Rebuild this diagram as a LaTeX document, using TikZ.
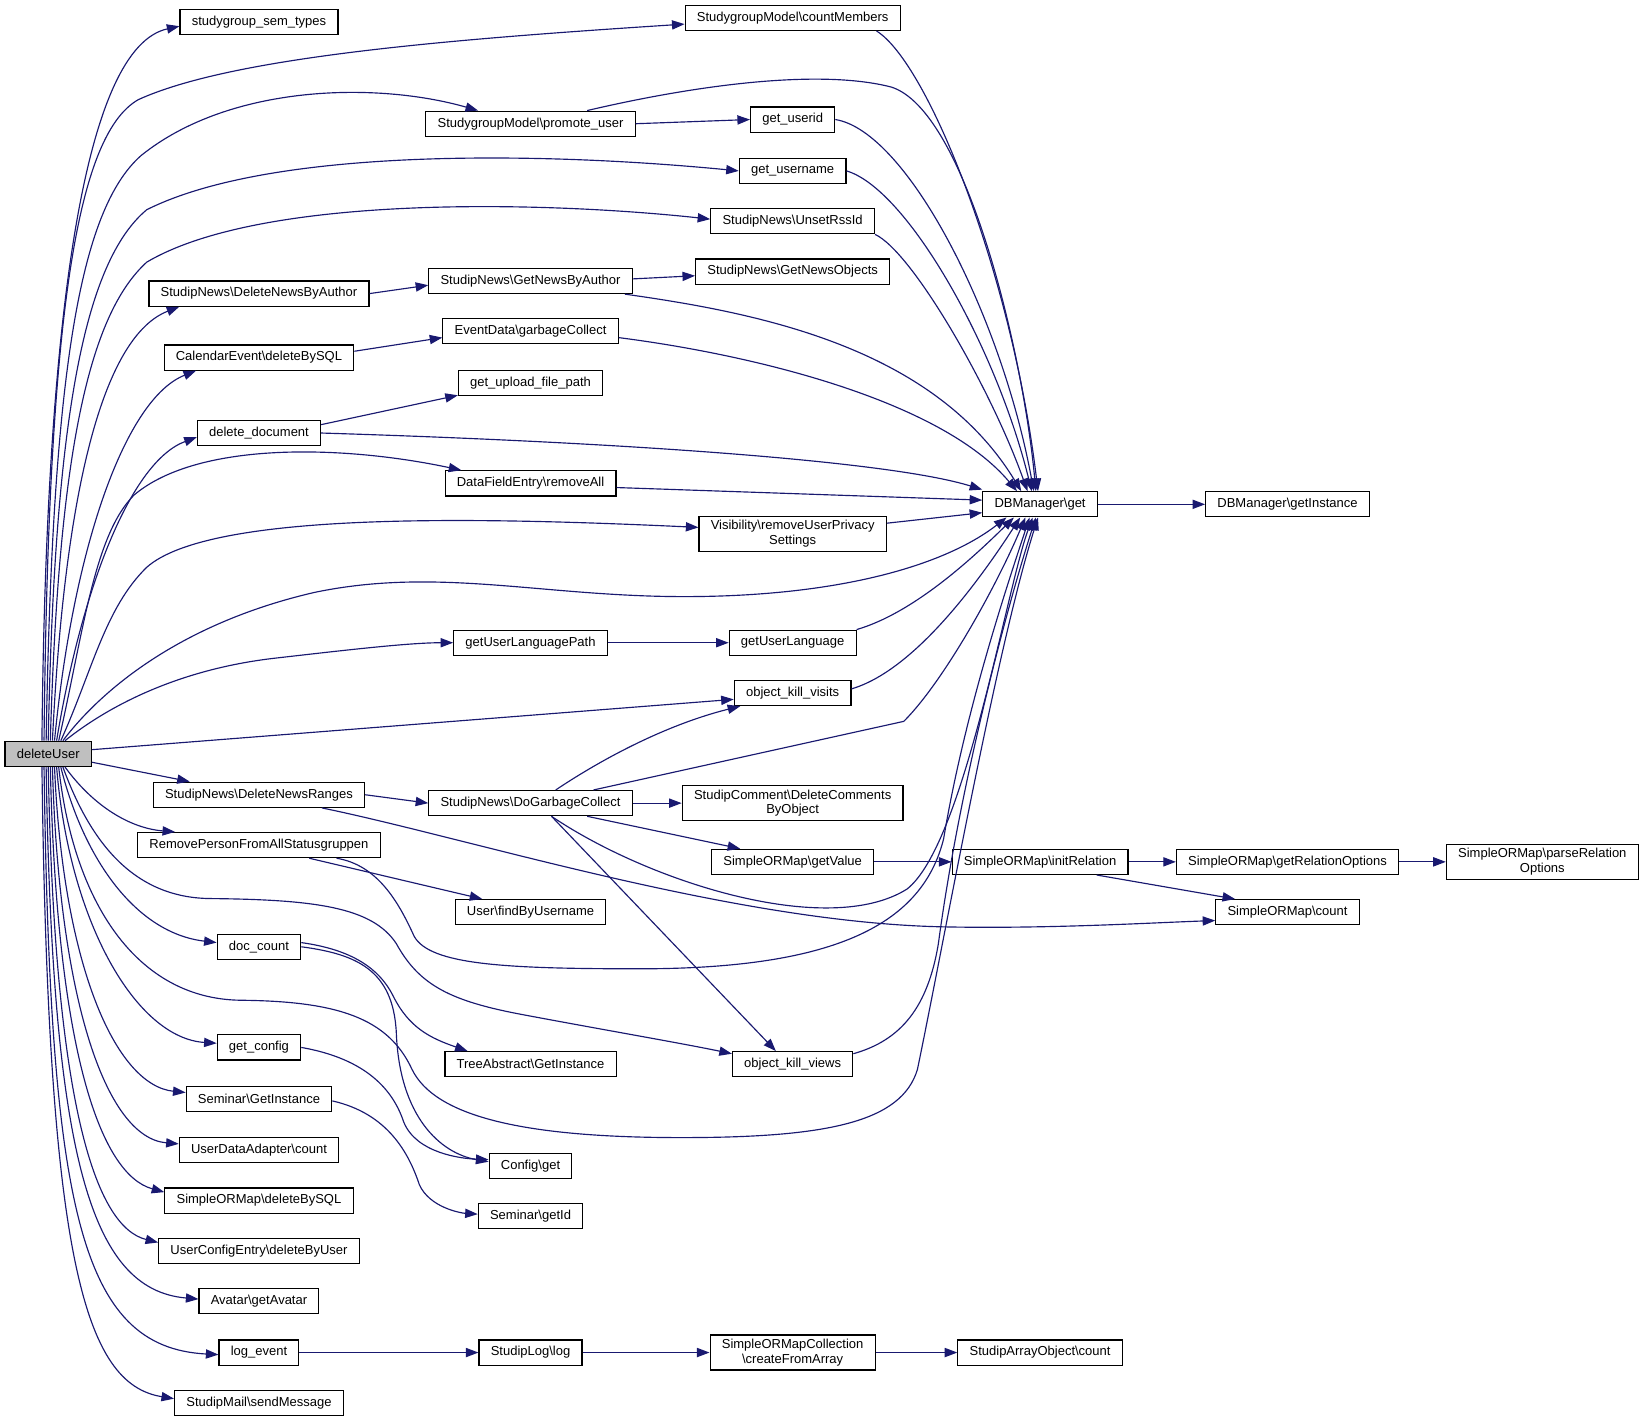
\documentclass[tikz,border=0pt]{standalone}
\usepackage{fontspec}
\setmainfont{Liberation Sans}
\usetikzlibrary{arrows.meta}
\definecolor{edgeblue}{HTML}{191970}
\newcommand{\bs}{\textbackslash}

\begin{document}
\begin{tikzpicture}[x=0.5pt, y=-0.5pt,
	fn/.style={draw, line width=0.55pt, fill=white, inner xsep=5.6pt, inner ysep=2pt, minimum height=12pt, font=\fontsize{6.2}{6.9}\selectfont, align=center},
	cur/.style={fn, fill=black!25},
	call/.style={draw=edgeblue, line width=0.55pt, -{Triangle[length=6pt, width=4.4pt]}}]
			\useasboundingbox (0,0) rectangle (1568,1355);
			
			\node[cur] (du) at (46,719) {deleteUser};
			
			\node[fn] (sst) at (247,21) {studygroup\_sem\_types};
			\node[fn] (dnba) at (247,280) {StudipNews\bs DeleteNewsByAuthor};
			\node[fn] (cedel) at (247,341) {CalendarEvent\bs deleteBySQL};
			\node[fn] (deldoc) at (247,413) {delete\_document};
			\node[fn] (dnr) at (247,758) {StudipNews\bs DeleteNewsRanges};
			\node[fn] (rpfas) at (247,806) {RemovePersonFromAllStatusgruppen};
			\node[fn] (doccnt) at (247,903) {doc\_count};
			\node[fn] (getcfg) at (247,999) {get\_config};
			\node[fn] (semgi) at (247,1048) {Seminar\bs GetInstance};
			\node[fn] (udacnt) at (247,1097) {UserDataAdapter\bs count};
			\node[fn] (sormdel) at (247,1145) {SimpleORMap\bs deleteBySQL};
			\node[fn] (ucedel) at (247,1193) {UserConfigEntry\bs deleteByUser};
			\node[fn] (avatar) at (247,1241) {Avatar\bs getAvatar};
			\node[fn] (logev) at (247,1290) {log\_event};
			\node[fn] (sendmsg) at (247,1338) {StudipMail\bs sendMessage};
			
			\node[fn] (promote) at (506,118) {StudygroupModel\bs promote\_user};
			\node[fn] (gnba) at (506,268) {StudipNews\bs GetNewsByAuthor};
			\node[fn] (edgc) at (506,316) {EventData\bs garbageCollect};
			\node[fn] (upload) at (506,365) {get\_upload\_file\_path};
			\node[fn] (dfera) at (506,461) {DataFieldEntry\bs removeAll};
			\node[fn] (ulpath) at (506,613) {getUserLanguagePath};
			\node[fn] (dogc) at (506,766) {StudipNews\bs DoGarbageCollect};
			\node[fn] (findu) at (506,870) {User\bs findByUsername};
			\node[fn] (treegi) at (506,1015) {TreeAbstract\bs GetInstance};
			\node[fn] (cfgget) at (506,1112) {Config\bs get};
			\node[fn] (semid) at (506,1160) {Seminar\bs getId};
			\node[fn] (slog) at (506,1290) {StudipLog\bs log};
			
			\node[fn] (cntmem) at (756,17) {StudygroupModel\bs countMembers};
			\node[fn] (userid) at (756,114) {get\_userid};
			\node[fn] (uname) at (756,163) {get\_username};
			\node[fn] (unset) at (756,211) {StudipNews\bs UnsetRssId};
			\node[fn] (gno) at (756,259) {StudipNews\bs GetNewsObjects};
			\node[fn] (vis) at (756,509) {Visibility\bs removeUserPrivacy\\Settings};
			\node[fn] (ulang) at (756,613) {getUserLanguage};
			\node[fn] (okvisits) at (756,661) {object\_kill\_visits};
			\node[fn] (dcbo) at (756,766) {StudipComment\bs DeleteComments\\ByObject};
			\node[fn] (getval) at (756,822) {SimpleORMap\bs getValue};
			\node[fn] (okviews) at (756,1015) {object\_kill\_views};
			\node[fn] (colfa) at (756,1290) {SimpleORMapCollection\\\bs createFromArray};
			
			\node[fn] (dbget) at (992,481) {DBManager\bs get};
			\node[fn] (initrel) at (992,822) {SimpleORMap\bs initRelation};
			\node[fn] (saocnt) at (992,1290) {StudipArrayObject\bs count};
			
			\node[fn] (dbinst) at (1228,481) {DBManager\bs getInstance};
			\node[fn] (getrelopt) at (1228,822) {SimpleORMap\bs getRelationOptions};
			\node[fn] (sormcnt) at (1228,870) {SimpleORMap\bs count};
			\node[fn] (parserel) at (1471,822) {SimpleORMap\bs parseRelation\\Options};
			
			% calls made by deleteUser
			\draw[call] ([xshift=-3pt]du.north) .. controls (44,300) and (80,45) .. ([yshift=-2pt]sst.west);
			\draw[call] ([xshift=-2pt]du.north) .. controls (46,320) and (70,130) .. (132,95) .. controls (220,55) and (420,38) .. ([yshift=-3pt]cntmem.west);
			\draw[call] ([xshift=-1pt]du.north) .. controls (50,360) and (75,200) .. (135,148) .. controls (220,80) and (360,78) .. ([xshift=-25pt]promote.north);
			\draw[call] (du.north) .. controls (52,400) and (80,250) .. (140,200) .. controls (260,140) and (520,145) .. (uname.west);
			\draw[call] ([xshift=1pt]du.north) .. controls (56,430) and (85,300) .. (140,250) .. controls (250,185) and (520,192) .. ([yshift=1pt]unset.west);
			\draw[call] ([xshift=2pt]du.north) .. controls (62,460) and (100,320) .. ([xshift=-38pt]dnba.south);
			\draw[call] ([xshift=3pt]du.north) .. controls (70,520) and (120,380) .. ([xshift=-30pt]cedel.south);
			\draw[call] ([xshift=4pt]du.north) .. controls (78,560) and (125,440) .. ([yshift=-2pt]deldoc.west);
			\draw[call] ([xshift=5pt]du.north) .. controls (80,600) and (90,510) .. (128,472) .. controls (190,420) and (330,425) .. ([xshift=-33pt]dfera.north);
			\draw[call] ([xshift=6pt]du.north) .. controls (88,640) and (100,580) .. (140,541) .. controls (200,488) and (450,493) .. ([yshift=3pt]vis.west);
			\draw[call] ([xshift=7pt]du.north) .. controls (95,660) and (170,595) .. (300,565) .. controls (420,540) and (520,570) .. (660,569) .. controls (800,568) and (900,540) .. ([xshift=-16pt]dbget.south);
			\draw[call] ([xshift=8pt]du.north) .. controls (95,680) and (160,640) .. (260,628) .. controls (330,620) and (390,613) .. (ulpath.west);
			\draw[call] ([yshift=2pt]du.east) -- ([yshift=-3pt]okvisits.west);
			\draw[call] ([yshift=-4pt]du.east) -- ([xshift=-33pt]dnr.north);
			\draw[call] ([xshift=8pt]du.south) .. controls (90,770) and (125,790) .. ([xshift=-40pt]rpfas.north);
			\draw[call] ([xshift=7pt]du.south) .. controls (85,800) and (125,856) .. (200,857) .. controls (300,858) and (355,865) .. (378,900) .. controls (400,940) and (430,955) .. (500,968) .. controls (580,983) and (650,995) .. ([yshift=5pt]okviews.west);
			\draw[call] ([xshift=6pt]du.south) .. controls (80,820) and (130,890) .. ([yshift=2pt]doccnt.west);
			\draw[call] ([xshift=5pt]du.south) .. controls (70,860) and (130,953) .. (230,954) .. controls (320,955) and (370,970) .. (393,1020) .. controls (415,1065) and (500,1085) .. (650,1085) .. controls (790,1085) and (860,1070) .. (875,1020) .. controls (900,900) and (950,620) .. ([xshift=-1pt]dbget.south);
			\draw[call] ([xshift=4pt]du.south) .. controls (66,880) and (130,990) .. ([yshift=2pt]getcfg.west);
			\draw[call] ([xshift=3pt]du.south) .. controls (60,920) and (110,1035) .. ([yshift=3pt]semgi.west);
			\draw[call] ([xshift=2pt]du.south) .. controls (56,950) and (100,1085) .. ([yshift=3pt]udacnt.west);
			\draw[call] ([xshift=1pt]du.south) .. controls (54,1000) and (95,1120) .. ([yshift=4pt]sormdel.west);
			\draw[call] (du.south) .. controls (52,1050) and (90,1170) .. ([yshift=4pt]ucedel.west);
			\draw[call] ([xshift=-1pt]du.south) .. controls (50,1100) and (85,1230) .. ([yshift=1pt]avatar.west);
			\draw[call] ([xshift=-2pt]du.south) .. controls (48,1150) and (75,1285) .. ([yshift=-1pt]logev.west);
			\draw[call] ([xshift=-3pt]du.south) .. controls (46,1200) and (80,1320) .. ([yshift=2pt]sendmsg.west);
			
			% upper callees
			\draw[call] (promote.east) -- (userid.west);
			\draw[call] ([xshift=27pt]promote.north) .. controls (660,82) and (780,65) .. (850,83) .. controls (920,105) and (975,330) .. ([xshift=-2pt]dbget.north);
			\draw[call] ([xshift=40pt]cntmem.south) .. controls (885,60) and (965,260) .. ([xshift=-1pt]dbget.north);
			\draw[call] (userid.east) .. controls (865,125) and (955,300) .. ([xshift=-3pt]dbget.north);
			\draw[call] (uname.east) .. controls (865,180) and (950,330) .. ([xshift=-4pt]dbget.north);
			\draw[call] (unset.south east) .. controls (870,240) and (945,370) .. ([xshift=-6pt]dbget.north);
			\draw[call] (dnba.east) -- ([yshift=-2pt]gnba.west);
			\draw[call] ([yshift=1pt]gnba.east) -- ([yshift=-2pt]gno.west);
			\draw[call] ([xshift=45pt]gnba.south) .. controls (720,298) and (890,330) .. ([xshift=-9pt]dbget.north);
			\draw[call] ([yshift=3pt]cedel.east) -- ([yshift=-3pt]edgc.west);
			\draw[call] ([yshift=-3pt]edgc.east) .. controls (730,340) and (900,385) .. ([xshift=-11pt]dbget.north);
			\draw[call] ([yshift=4pt]deldoc.east) -- ([yshift=-6pt]upload.west);
			\draw[call] (deldoc.east) .. controls (600,422) and (850,440) .. ([yshift=7pt]dbget.west);
			\draw[call] ([yshift=-2pt]dfera.east) -- ([yshift=2pt]dbget.west);
			\draw[call] ([yshift=5pt]vis.east) -- ([yshift=-4pt]dbget.west);
			\draw[call] (dbget.east) -- (dbinst.west);
			
			% middle callees
			\draw[call] (ulpath.east) -- (ulang.west);
			\draw[call] (ulang.north east) .. controls (870,585) and (925,535) .. ([xshift=-12.5pt]dbget.south);
			\draw[call] ([yshift=2pt]okvisits.east) .. controls (870,640) and (930,560) .. ([xshift=-9.5pt]dbget.south);
			\draw[call] (dnr.east) -- (dogc.west);
			\draw[call] ([xshift=30pt]dnr.south) .. controls (450,800) and (700,880) .. (900,884) .. controls (1000,886) and (1100,880) .. ([yshift=-4pt]sormcnt.west);
			\draw[call] ([xshift=12pt]dogc.north) .. controls (580,720) and (640,690) .. ([xshift=-25pt]okvisits.south);
			\draw[call] ([xshift=30pt]dogc.north) -- (862,688) .. controls (900,650) and (950,560) .. ([xshift=-7pt]dbget.south);
			\draw[call] (dogc.east) -- (dcbo.west);
			\draw[call] ([xshift=27pt]dogc.south) -- ([xshift=-25pt]getval.north);
			\draw[call] ([xshift=10pt]dogc.south) -- ([xshift=-8pt]okviews.north);
			\draw[call] ([xshift=10pt]dogc.south) .. controls (620,842) and (790,895) .. (865,848) .. controls (920,805) and (960,560) .. ([xshift=-3.5pt]dbget.south);
			\draw[call] ([xshift=24pt]rpfas.south) -- ([xshift=-23pt]findu.north);
			\draw[call] ([xshift=37pt]rpfas.south) .. controls (360,825) and (380,860) .. (395,893) .. controls (410,920) and (480,924) .. (610,924) .. controls (800,924) and (880,880) .. (900,800) .. controls (920,680) and (960,560) .. ([xshift=-5pt]dbget.south);
			\draw[call] (getval.east) -- (initrel.west);
			\draw[call] (initrel.east) -- (getrelopt.west);
			\draw[call] ([xshift=27pt]initrel.south) -- ([xshift=-25pt]sormcnt.north);
			\draw[call] (getrelopt.east) -- (parserel.west);
			\draw[call] ([yshift=5pt]okviews.east) .. controls (860,992) and (885,960) .. (895,900) .. controls (915,750) and (960,580) .. ([xshift=-2pt]dbget.south);
			
			% lower callees
			\draw[call] ([yshift=2pt]doccnt.east) .. controls (330,905) and (360,920) .. (375,950) .. controls (390,980) and (410,990) .. ([xshift=-30pt]treegi.north);
			\draw[call] (doccnt.east) .. controls (340,910) and (375,925) .. (378,985) .. controls (381,1065) and (420,1100) .. ([yshift=2pt]cfgget.west);
			\draw[call] (getcfg.east) .. controls (350,1010) and (375,1040) .. (385,1070) .. controls (397,1100) and (440,1105) .. ([yshift=3pt]cfgget.west);
			\draw[call] ([yshift=-1pt]semgi.east) .. controls (370,1062) and (390,1100) .. (400,1130) .. controls (410,1152) and (440,1157) .. ([yshift=1pt]semid.west);
			\draw[call] (logev.east) -- (slog.west);
			\draw[call] (slog.east) -- (colfa.west);
			\draw[call] (colfa.east) -- (saocnt.west);
\end{tikzpicture}
\end{document}
